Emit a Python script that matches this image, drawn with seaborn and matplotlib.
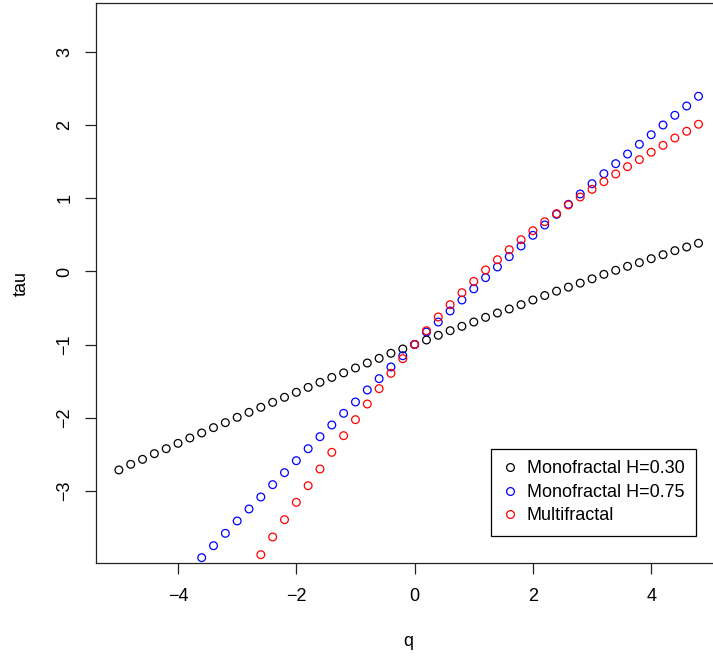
import matplotlib
matplotlib.use("Agg")
import matplotlib.pyplot as plt
import seaborn as sns
from matplotlib.lines import Line2D

# ---- data ----
q_black = [-5.0, -4.8, -4.6, -4.4, -4.2, -4.0, -3.8, -3.6, -3.4, -3.2,
           -3.0, -2.8, -2.6, -2.4, -2.2, -2.0, -1.8, -1.6, -1.4, -1.2,
           -1.0, -0.8, -0.6, -0.4, -0.2, 0.0, 0.2, 0.4, 0.6, 0.8,
           1.0, 1.2, 1.4, 1.6, 1.8, 2.0, 2.2, 2.4, 2.6, 2.8,
           3.0, 3.2, 3.4, 3.6, 3.8, 4.0, 4.2, 4.4, 4.6, 4.8]
tau_black = [-2.715, -2.638, -2.570, -2.492, -2.424, -2.351, -2.278, -2.209, -2.136, -2.068,
             -1.995, -1.927, -1.858, -1.790, -1.721, -1.653, -1.585, -1.516, -1.449, -1.387,
             -1.320, -1.252, -1.188, -1.119, -1.060, -0.998, -0.937, -0.873, -0.810, -0.750,
             -0.691, -0.627, -0.568, -0.513, -0.454, -0.390, -0.329, -0.269, -0.214, -0.159,
             -0.100, -0.039, 0.016, 0.071, 0.121, 0.175, 0.230, 0.285, 0.335, 0.386]

q_blue = [-3.6, -3.4, -3.2, -3.0, -2.8, -2.6, -2.4, -2.2, -2.0, -1.8,
          -1.6, -1.4, -1.2, -1.0, -0.8, -0.6, -0.4, -0.2, 0.0, 0.2,
          0.4, 0.6, 0.8, 1.0, 1.2, 1.4, 1.6, 1.8, 2.0, 2.2,
          2.4, 2.6, 2.8, 3.0, 3.2, 3.4, 3.6, 3.8, 4.0, 4.2,
          4.4, 4.6, 4.8]
tau_blue = [-3.915, -3.751, -3.582, -3.413, -3.249, -3.085, -2.916, -2.752, -2.588, -2.424,
            -2.260, -2.100, -1.940, -1.785, -1.621, -1.466, -1.306, -1.152, -0.998, -0.828,
            -0.691, -0.540, -0.390, -0.237, -0.084, 0.062, 0.203, 0.349, 0.495, 0.636,
            0.782, 0.919, 1.060, 1.201, 1.338, 1.475, 1.607, 1.740, 1.871, 2.004,
            2.137, 2.264, 2.397]

q_red = [-2.6, -2.4, -2.2, -2.0, -1.8, -1.6, -1.4, -1.2, -1.0, -0.8,
         -0.6, -0.4, -0.2, 0.0, 0.2, 0.4, 0.6, 0.8, 1.0, 1.2,
         1.4, 1.6, 1.8, 2.0, 2.2, 2.4, 2.6, 2.8, 3.0, 3.2,
         3.4, 3.6, 3.8, 4.0, 4.2, 4.4, 4.6, 4.8]
tau_red = [-3.874, -3.632, -3.395, -3.158, -2.930, -2.702, -2.474, -2.246, -2.027, -1.813,
           -1.603, -1.393, -1.193, -0.998, -0.810, -0.622, -0.454, -0.290, -0.135, 0.021,
           0.161, 0.298, 0.435, 0.558, 0.681, 0.791, 0.910, 1.019, 1.124, 1.229,
           1.334, 1.434, 1.530, 1.631, 1.726, 1.826, 1.918, 2.014]

series_labels = ["Monofractal H=0.30", "Monofractal H=0.75", "Multifractal"]
series_colors = ["black", "blue", "red"]
x_ticks = [-4, -2, 0, 2, 4]
y_ticks = [-3, -2, -1, 0, 1, 2, 3]

# ---- styling ----
plt.rcParams["font.family"] = ["Liberation Sans", "DejaVu Sans"]
plt.rcParams["axes.unicode_minus"] = True

W, H = 713, 656
fig = plt.figure(figsize=(W / 100, H / 100), dpi=100)
left, right, top, bottom = 95.7, 721.7, 3.0, 563.3
ax = fig.add_axes([left / W, 1 - bottom / H, (right - left) / W, (bottom - top) / H])

for qs, ts, col in zip([q_black, q_blue, q_red], [tau_black, tau_blue, tau_red], series_colors):
    sns.scatterplot(x=qs, y=ts, ax=ax, color=col, s=31, marker="o", legend=False)
    coll = ax.collections[-1]
    coll.set_facecolor("none")
    coll.set_edgecolor(col)
    coll.set_linewidth(0.9)

ax.set_xlim(-5.392, 5.192)
ax.set_ylim(-3.992, 3.673)
ax.set_xticks(x_ticks)
ax.set_yticks(y_ticks)

for sp in ax.spines.values():
    sp.set_linewidth(0.9)
    sp.set_color("#222222")

ax.tick_params(axis="both", direction="out", length=7.9, width=0.9, colors="#222222",
               labelcolor="black", labelsize=13)
ax.tick_params(axis="x", pad=10)
ax.tick_params(axis="y", pad=8, labelrotation=90)
for lab in ax.get_yticklabels():
    lab.set_va("center")

ax.set_xlabel("q", fontsize=13)
ax.set_ylabel("tau", fontsize=13)
ax.xaxis.set_label_coords(0.5, (bottom - 641.7) / (bottom - top))
ax.xaxis.label.set_va("center")
ax.yaxis.set_label_coords((21.7 - left) / (right - left), 0.5)
ax.yaxis.label.set_va("center")

handles = [Line2D([], [], ls="", marker="o", markersize=5.6, markerfacecolor="none",
                  markeredgecolor=c, markeredgewidth=0.9) for c in series_colors]
leg = ax.legend(handles, series_labels, loc="upper left",
                bbox_to_anchor=(491.3 / W, 1 - 448.7 / H), bbox_transform=fig.transFigure,
                borderaxespad=0, fontsize=13, frameon=True, fancybox=False, framealpha=1,
                edgecolor="black", borderpad=0.65, handlelength=0.8, handletextpad=0.5,
                labelspacing=0.36)
leg.get_frame().set_linewidth(0.9)

fig.savefig("out.png", dpi=100)
